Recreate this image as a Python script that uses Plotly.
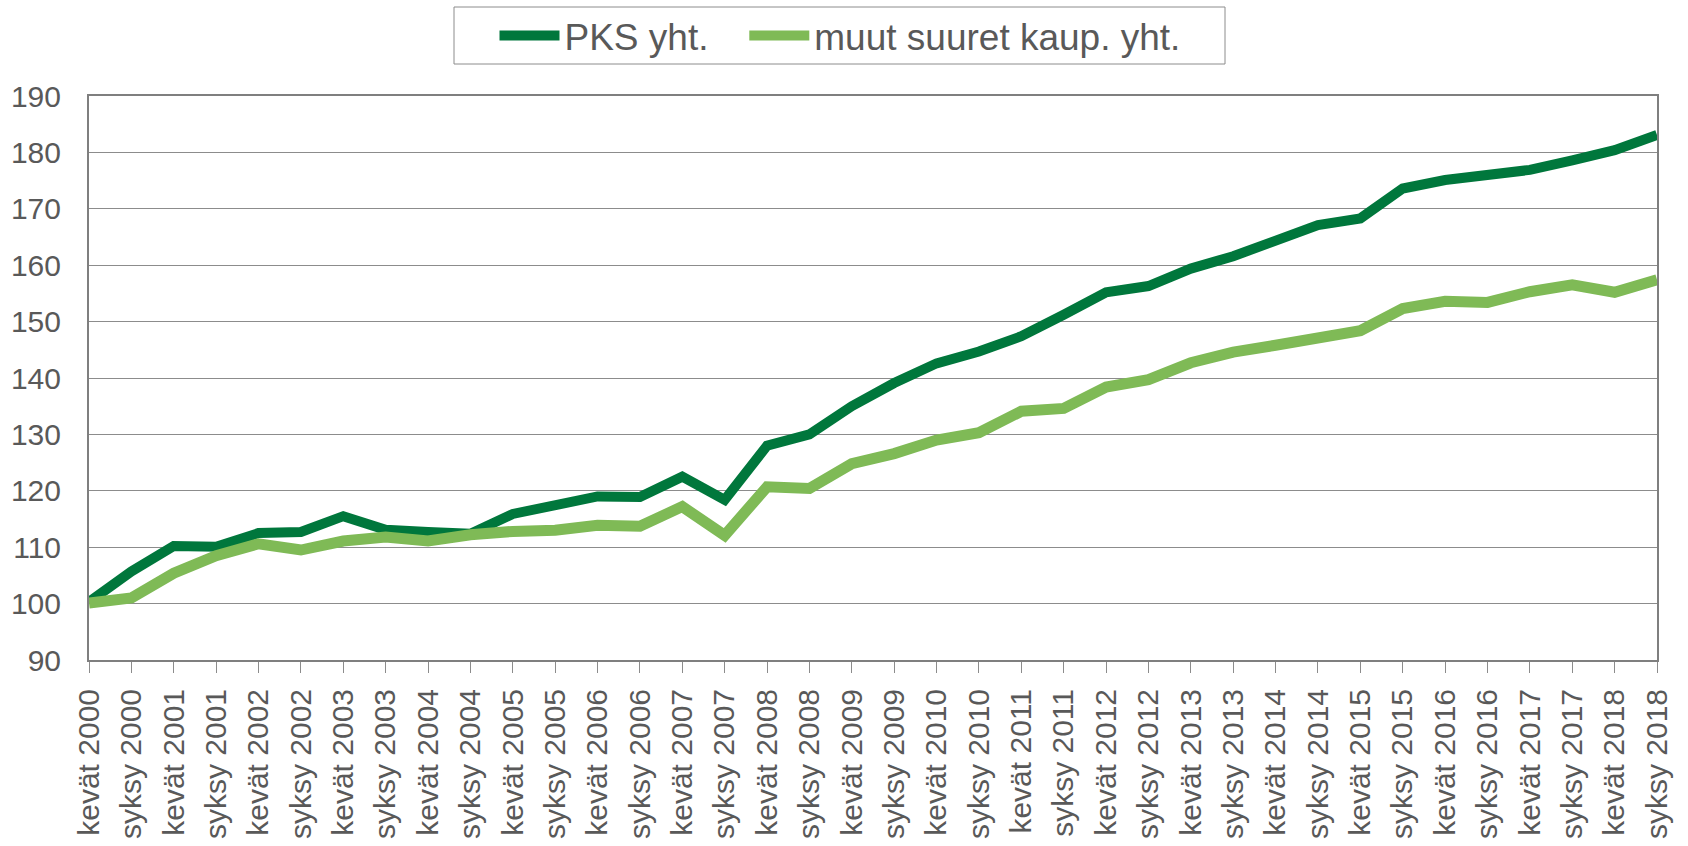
import plotly.graph_objects as go

years = list(range(2000, 2019))
categories = []
for y in years:
    categories.append(f"kevät {y}")
    categories.append(f"syksy {y}")

pks = [100.3, 105.7, 110.2, 110.1, 112.5, 112.7, 115.5, 113.1, 112.7, 112.4,
       115.9, 117.3, 119.0, 118.9, 122.5, 118.4, 128.0, 130.0, 135.0, 139.1,
       142.6, 144.7, 147.4, 151.2, 155.2, 156.3, 159.4, 161.6, 164.2, 167.1,
       168.3, 173.6, 175.1, 176.0, 176.9, 178.6, 180.4, 183.1]
muut = [100.1, 101.0, 105.4, 108.5, 110.6, 109.5, 111.1, 111.8, 111.1, 112.2,
        112.8, 113.0, 113.9, 113.7, 117.2, 112.1, 120.7, 120.4, 124.8, 126.6,
        129.0, 130.3, 134.1, 134.6, 138.4, 139.7, 142.7, 144.6, 145.8, 147.1,
        148.4, 152.3, 153.6, 153.4, 155.3, 156.5, 155.2, 157.4]

names = ["PKS yht.\u00a0\u00a0\u00a0", "muut suuret kaup. yht."]
colors = ["#00773C", "#7FBA56"]

fig = go.Figure()
fig.add_trace(go.Scatter(x=categories, y=pks, mode="lines", name=names[0],
                         line=dict(color=colors[0], width=10)))
fig.add_trace(go.Scatter(x=categories, y=muut, mode="lines", name=names[1],
                         line=dict(color=colors[1], width=11)))

# plot area geometry (pixels)
L, R, T, B = 89, 31, 96, 186
W, H = 1688 - L - R, 846 - T - B

# legend frame
fig.add_shape(type="rect", xref="paper", yref="paper",
              x0=(454 - L) / W, x1=(1225 - L) / W,
              y0=(846 - B - 64) / H, y1=(846 - B - 7) / H,
              line=dict(color="#8c8c8c", width=1), fillcolor="rgba(0,0,0,0)")

font = "Liberation Sans, Arial, sans-serif"
fig.update_layout(
    width=1688, height=846,
    margin=dict(l=L, r=R, t=T, b=B, autoexpand=False),
    paper_bgcolor="white", plot_bgcolor="white",
    font=dict(family=font, color="#595959", size=30),
    showlegend=True,
    legend=dict(orientation="h", xref="container", yref="container",
                x=840 / 1688, xanchor="center", y=1 - 5 / 846, yanchor="top",
                borderwidth=0,
                font=dict(size=37, color="#595959"), itemwidth=60,
                bgcolor="rgba(0,0,0,0)"),
    xaxis=dict(type="category", range=[0, len(categories) - 1],
               tickangle=-90, ticks="outside", ticklen=11, tickcolor="#8c8c8c",
               tickwidth=1, showline=True, linecolor="#7f7f7f", linewidth=2,
               mirror=True, showgrid=False, ticklabelstandoff=4,
               tickfont=dict(size=30, color="#595959")),
    yaxis=dict(range=[90, 190], dtick=10, tick0=90, showgrid=True,
               gridcolor="#8c8c8c", gridwidth=1, showline=True,
               linecolor="#7f7f7f", linewidth=2, mirror=True, ticks="",
               ticklabelstandoff=20,
               tickfont=dict(size=30, color="#595959"), zeroline=False),
)

fig.write_html("out.html", config={"displayModeBar": False},
               post_script="document.body.style.margin='0';document.body.style.overflow='hidden';")
